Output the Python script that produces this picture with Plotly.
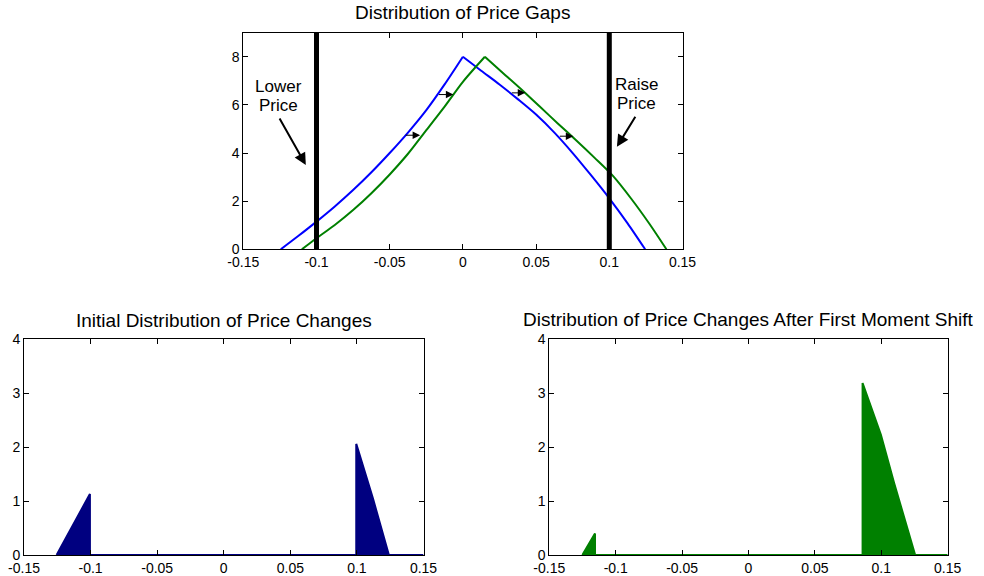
import plotly.graph_objects as go

# ---------------- data ----------------
# Top panel: distribution of price gaps (rising and falling branches)
blue_left_x = [-0.1244, -0.1125, -0.1, -0.0875, -0.075, -0.0625, -0.05, -0.0375, -0.025, -0.0125, 0.0]
blue_left_y = [0.0, 0.55, 1.15, 1.78, 2.46, 3.2, 4.0, 4.85, 5.78, 6.85, 8.0]
blue_right_x = [0.0, 0.0125, 0.025, 0.0375, 0.05, 0.0625, 0.075, 0.0875, 0.1, 0.1125, 0.1245]
blue_right_y = [8.0, 7.42, 6.85, 6.24, 5.6, 4.85, 4.0, 3.08, 2.12, 1.08, 0.0]

green_left_x = [-0.1100, -0.1, -0.0875, -0.075, -0.0625, -0.05, -0.0375, -0.025, -0.0125, 0.0, 0.015]
green_left_y = [0.0, 0.46, 1.01, 1.63, 2.33, 3.11, 3.97, 4.95, 5.93, 6.96, 8.0]
green_right_x = [0.015, 0.0275, 0.04, 0.0525, 0.065, 0.0775, 0.09, 0.1025, 0.115, 0.1275, 0.139]
green_right_y = [8.0, 7.32, 6.64, 5.93, 5.22, 4.52, 3.8, 3.05, 2.1, 1.05, 0.0]

band_x = [-0.1, 0.1]          # adjustment thresholds (thick black lines)
band_y = [0, 9]

# shift arrows: (tail x, head x, y)
shift_tail_x = [-0.0401, -0.0174, 0.0324, 0.0652]
shift_head_x = [-0.0292, -0.0065, 0.0426, 0.0754]
shift_y = [4.74, 6.43, 6.50, 4.70]

# bottom-left: initial distribution of price changes
init_x = [-0.1255, -0.1005, -0.1005, 0.0995, 0.0995, 0.112, 0.124, 0.15]
init_y = [0.0, 1.13, 0.0, 0.0, 2.06, 1.05, 0.0, 0.0]

# bottom-right: after first moment shift
shift_x = [-0.1251, -0.1156, -0.1156, 0.0859, 0.0859, 0.0922, 0.0997, 0.1097, 0.1255, 0.15]
shift_yv = [0.0, 0.40, 0.0, 0.0, 3.19, 2.75, 2.23, 1.33, 0.0, 0.0]

x_ticks = [-0.15, -0.1, -0.05, 0, 0.05, 0.1, 0.15]
x_tick_text = ["-0.15", "-0.1", "-0.05", "0", "0.05", "0.1", "0.15"]
top_y_ticks = [0, 2, 4, 6, 8]
bot_y_ticks = [0, 1, 2, 3, 4]

titles = ["Distribution of Price Gaps",
          "Initial Distribution of Price Changes",
          "Distribution of Price Changes After First Moment Shift"]

# ---------------- figure ----------------
W, H = 984, 576
FONT = "Arial, Liberation Sans, sans-serif"
BLUE, GREEN, NAVY, DKGREEN = "#0000FF", "#008000", "#000080", "#008000"

fig = go.Figure()

for xs, ys, col in [(blue_left_x, blue_left_y, BLUE), (blue_right_x, blue_right_y, BLUE),
                    (green_left_x, green_left_y, GREEN), (green_right_x, green_right_y, GREEN)]:
    fig.add_trace(go.Scatter(x=xs, y=ys, mode="lines",
                             line=dict(color=col, width=2, shape="spline", smoothing=0.8),
                             xaxis="x", yaxis="y", showlegend=False, hoverinfo="skip"))
for bx in band_x:
    fig.add_trace(go.Scatter(x=[bx, bx], y=band_y, mode="lines",
                             line=dict(color="black", width=5), xaxis="x", yaxis="y",
                             showlegend=False, hoverinfo="skip"))

fig.add_trace(go.Scatter(x=init_x, y=init_y, mode="lines", fill="tozeroy",
                         line=dict(color=NAVY, width=2), fillcolor=NAVY,
                         xaxis="x2", yaxis="y2", showlegend=False, hoverinfo="skip"))
fig.add_trace(go.Scatter(x=shift_x, y=shift_yv, mode="lines", fill="tozeroy",
                         line=dict(color=DKGREEN, width=2), fillcolor=DKGREEN,
                         xaxis="x3", yaxis="y3", showlegend=False, hoverinfo="skip"))


def px_x(p):
    return p / W


def px_y(p):
    return 1 - p / H


top_dom_x = [px_x(243.3), px_x(682.5)]
top_dom_y = [px_y(249.3), px_y(32.7)]
bl_dom_x = [px_x(24), px_x(423.5)]
br_dom_x = [px_x(549.3), px_x(947.7)]
bot_dom_y = [px_y(555), px_y(339.3)]

axis_style = dict(showline=True, linecolor="black", linewidth=1, mirror="allticks",
                  ticks="inside", ticklen=5, tickcolor="black", showgrid=False,
                  zeroline=False, automargin=False,
                  tickfont=dict(family=FONT, size=14, color="black"))

fig.update_layout(
    width=W, height=H, margin=dict(l=0, r=0, t=0, b=0, pad=0),
    paper_bgcolor="white", plot_bgcolor="white",
    font=dict(family=FONT, size=14, color="black"),
    xaxis=dict(domain=top_dom_x, range=[-0.15, 0.15], tickvals=x_ticks, ticktext=x_tick_text,
               anchor="y", **axis_style),
    yaxis=dict(domain=top_dom_y, range=[0, 9], tickvals=top_y_ticks, anchor="x", **axis_style),
    xaxis2=dict(domain=bl_dom_x, range=[-0.15, 0.15], tickvals=x_ticks, ticktext=x_tick_text,
                anchor="y2", **axis_style),
    yaxis2=dict(domain=bot_dom_y, range=[0, 4], tickvals=bot_y_ticks, anchor="x2", **axis_style),
    xaxis3=dict(domain=br_dom_x, range=[-0.15, 0.15], tickvals=x_ticks, ticktext=x_tick_text,
                anchor="y3", **axis_style),
    yaxis3=dict(domain=bot_dom_y, range=[0, 4], tickvals=bot_y_ticks, anchor="x3", **axis_style),
)

ann = []
# titles
ann.append(dict(text=titles[0], xref="paper", yref="paper", x=sum(top_dom_x) / 2, y=px_y(13),
                showarrow=False, font=dict(size=19), xanchor="center", yanchor="middle"))
ann.append(dict(text=titles[1], xref="paper", yref="paper", x=sum(bl_dom_x) / 2, y=px_y(320),
                showarrow=False, font=dict(size=19), xanchor="center", yanchor="middle"))
ann.append(dict(text=titles[2], xref="paper", yref="paper", x=sum(br_dom_x) / 2, y=px_y(319),
                showarrow=False, font=dict(size=19), xanchor="center", yanchor="middle"))

# labels (two lines each)
for txt, xx, yy in [("Lower", -0.126, 6.75), ("Price", -0.126, 5.96),
                    ("Raise", 0.1184, 6.85), ("Price", 0.1184, 6.06)]:
    ann.append(dict(text=txt, xref="x", yref="y", x=xx, y=yy, showarrow=False,
                    font=dict(size=17), xanchor="center", yanchor="middle"))
ann.append(dict(text="", xref="x", yref="y", x=-0.1073, y=3.50, axref="x", ayref="y",
                ax=-0.1258, ay=5.50, showarrow=True, arrowhead=2, arrowsize=1.2,
                arrowwidth=2, arrowcolor="black"))
ann.append(dict(text="", xref="x", yref="y", x=0.1052, y=4.26, axref="x", ayref="y",
                ax=0.1184, ay=5.57, showarrow=True, arrowhead=2, arrowsize=1.2,
                arrowwidth=2, arrowcolor="black"))
for tx, hx, yy in zip(shift_tail_x, shift_head_x, shift_y):
    ann.append(dict(text="", xref="x", yref="y", x=hx, y=yy, axref="x", ayref="y",
                    ax=tx, ay=yy, showarrow=True, arrowhead=2, arrowsize=1.5,
                    arrowwidth=1, arrowcolor="black"))

fig.update_layout(annotations=ann)
# remove the default page margin so the 984x576 figure fills the window exactly
fig.write_html("out.html", config={"displayModeBar": False},
               post_script="document.body.style.margin='0';document.body.style.overflow='hidden';")
